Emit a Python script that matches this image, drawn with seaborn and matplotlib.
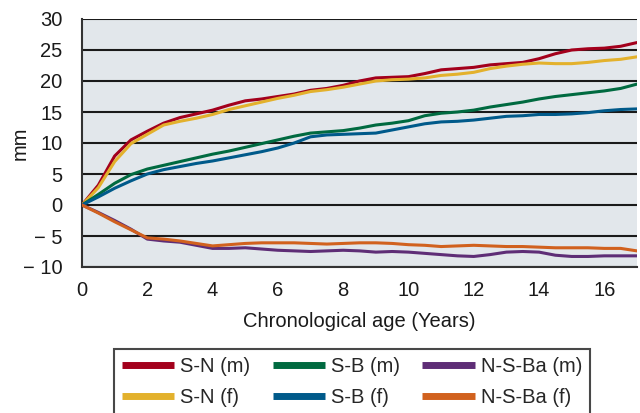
import numpy as np
import pandas as pd
import matplotlib
matplotlib.use("Agg")
import matplotlib.pyplot as plt
import seaborn as sns
from matplotlib.lines import Line2D

ages = [0, 0.5, 1, 1.5, 2, 2.5, 3, 3.5, 4, 4.5, 5, 5.5, 6, 6.5, 7, 7.5, 8, 8.5,
        9, 9.5, 10, 10.5, 11, 11.5, 12, 12.5, 13, 13.5, 14, 14.5, 15, 15.5, 16, 16.5, 17]

sn_m = [0, 3.2, 7.9, 10.5, 11.9, 13.2, 14.1, 14.7, 15.3, 16.1, 16.8, 17.1, 17.5, 17.9,
        18.5, 18.8, 19.3, 20.0, 20.5, 20.6, 20.7, 21.2, 21.8, 22.0, 22.2, 22.6, 22.8,
        23.0, 23.6, 24.4, 25.0, 25.2, 25.3, 25.6, 26.2]
sn_f = [0, 2.8, 7.0, 9.9, 11.4, 12.9, 13.5, 14.0, 14.6, 15.4, 16.0, 16.6, 17.2, 17.7,
        18.3, 18.6, 19.0, 19.5, 20.0, 20.2, 20.3, 20.5, 20.9, 21.1, 21.4, 22.0, 22.4,
        22.7, 22.9, 22.8, 22.8, 23.0, 23.3, 23.5, 23.9]
sb_m = [0, 1.7, 3.5, 4.9, 5.8, 6.4, 7.0, 7.6, 8.2, 8.7, 9.3, 9.9, 10.5, 11.1, 11.6,
        11.8, 12.0, 12.4, 12.9, 13.2, 13.6, 14.4, 14.8, 15.0, 15.3, 15.8, 16.2, 16.6,
        17.1, 17.5, 17.8, 18.1, 18.4, 18.8, 19.5]
sb_f = [0, 1.3, 2.7, 3.9, 5.0, 5.7, 6.2, 6.7, 7.1, 7.6, 8.1, 8.6, 9.2, 10.0, 11.0,
        11.3, 11.4, 11.5, 11.6, 12.1, 12.6, 13.1, 13.4, 13.5, 13.7, 14.0, 14.3, 14.4,
        14.6, 14.6, 14.7, 14.9, 15.2, 15.4, 15.5]
nsba_m = [0, -1.2, -2.5, -3.9, -5.5, -5.8, -6.0, -6.5, -7.0, -7.0, -6.9, -7.1, -7.3,
          -7.4, -7.5, -7.4, -7.3, -7.4, -7.6, -7.5, -7.6, -7.8, -8.0, -8.2, -8.3, -8.0,
          -7.6, -7.5, -7.6, -8.1, -8.3, -8.3, -8.2, -8.2, -8.2]
nsba_f = [0, -1.3, -2.7, -4.0, -5.3, -5.5, -5.8, -6.2, -6.6, -6.4, -6.2, -6.1, -6.1,
          -6.1, -6.2, -6.3, -6.2, -6.1, -6.1, -6.2, -6.4, -6.5, -6.7, -6.6, -6.5, -6.6,
          -6.7, -6.7, -6.8, -6.9, -6.9, -6.9, -7.0, -7.0, -7.4]

series_names = ["S-N (m)", "S-N (f)", "S-B (m)", "S-B (f)", "N-S-Ba (m)", "N-S-Ba (f)"]
series_values = [sn_m, sn_f, sb_m, sb_f, nsba_m, nsba_f]
colors = ["#a3001c", "#e3b12c", "#006a40", "#005a8a", "#5e2d76", "#d1611e"]

df = pd.concat(
    [pd.DataFrame({"age": ages, "mm": vals, "series": name})
     for name, vals in zip(series_names, series_values)],
    ignore_index=True,
)

sns.set_theme(style="white")
plt.rcParams["font.family"] = ["Liberation Sans", "DejaVu Sans"]

FS = 14.5
fig = plt.figure(figsize=(6.4, 4.13), dpi=100)
ax = fig.add_axes([82 / 640, 1 - 267 / 413, 555 / 640, 248 / 413])
ax.set_facecolor("#e2e7eb")

sns.lineplot(data=df, x="age", y="mm", hue="series", hue_order=series_names,
             palette=colors, linewidth=2.2, legend=False, ax=ax, zorder=3)

ax.set_xlim(0, 17)
ax.set_ylim(-10, 30)
ax.set_xticks(range(0, 17, 2))
ax.set_yticks(range(-10, 31, 5))
ax.set_yticklabels([f"{v}".replace("-", "\u2212 ") if v < 0 else f"{v}"
                    for v in range(-10, 31, 5)])
ax.yaxis.grid(True, color="#1a1a1a", linewidth=1.5, zorder=1)
ax.xaxis.grid(False)
ax.set_axisbelow(True)

for side in ("top", "right"):
    ax.spines[side].set_visible(False)
for side in ("left", "bottom"):
    ax.spines[side].set_color("#333333")
    ax.spines[side].set_linewidth(1.5)

ax.tick_params(axis="both", which="major", labelsize=FS, colors="#1a1a1a",
               direction="out", width=1.3)
ax.tick_params(axis="x", length=5, pad=5)
ax.tick_params(axis="y", length=4, pad=10)
ax.set_xlabel("Chronological age (Years)", fontsize=FS, color="#1a1a1a", labelpad=9)
ax.set_ylabel("mm", fontsize=FS, color="#1a1a1a")
ax.yaxis.set_label_coords(-0.094, 0.5)

handles = [Line2D([0], [0], color=c, linewidth=5, solid_capstyle="butt") for c in colors]
leg = fig.legend(handles, series_names, loc="upper center", ncol=3,
                 bbox_to_anchor=(352 / 640, 1 - 349 / 413), fontsize=FS,
                 frameon=True, fancybox=False, edgecolor="#1a1a1a",
                 handlelength=2.6, handletextpad=0.3, columnspacing=1.1,
                 labelspacing=0.6, borderpad=0.4, borderaxespad=0)
leg.get_frame().set_linewidth(1.5)

fig.savefig("out.png", dpi=100)
